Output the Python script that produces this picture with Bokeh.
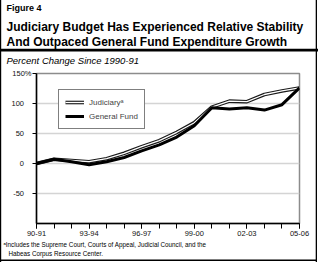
from bokeh.plotting import figure
from bokeh.layouts import column
from bokeh.models import (Range1d, FixedTicker, Legend, LegendItem, ColumnDataSource)
from bokeh.core.properties import value
from bokeh.embed import file_html
from bokeh.resources import INLINE

years = ["90-91", "91-92", "92-93", "93-94", "94-95", "95-96", "96-97", "97-98",
         "98-99", "99-00", "00-01", "01-02", "02-03", "03-04", "04-05", "05-06"]
judiciary = [0, 7, 5, 3, 8, 17, 28, 38, 52, 68, 94, 104, 103, 115, 121, 126]
general_fund = [0, 7, 3, -2, 3, 10, 21, 31, 44, 63, 93, 91, 93, 89, 98, 126]
y_ticks = [-50, 0, 50, 100, 150]
y_tick_labels = ["-50", "0", "50", "100", "150%"]

figure_label = "Figure 4"
title_lines = ["Judiciary Budget Has Experienced Relative Stability",
               "And Outpaced General Fund Expenditure Growth"]
subtitle = "Percent Change Since 1990-91"
footnote_lines = ["\u1d43Includes the Supreme Court, Courts of Appeal, Judicial Council, and the",
                  "Habeas Corpus Resource Center."]
legend_labels = ["Judiciary\u1d43", "General Fund"]

FONT = "Liberation Sans"
W = 318


def canvas_fig(h):
    f = figure(width=W, height=h, output_backend="svg", toolbar_location=None,
               x_range=Range1d(0, W), y_range=Range1d(h, 0),
               x_axis_type=None, y_axis_type=None, min_border=0,
               frame_align=False)
    f.grid.visible = False
    f.outline_line_color = None
    f.background_fill_alpha = 0
    f.border_fill_alpha = 0
    return f


def put_text(f, x, y, text, size, style="normal"):
    f.text(x=[x], y=[y], text=[text], text_font=value(FONT), text_font_size=size,
           text_font_style=style, text_color="black", text_baseline="alphabetic",
           text_align="left")


# ---- header ----
HH = 68
head = canvas_fig(HH)
put_text(head, 6, 7.5, figure_label, "9px", "bold")
put_text(head, 6, 26, title_lines[0], "12px", "bold")
put_text(head, 6, 41, title_lines[1], "12px", "bold")
head.quad(left=[0], right=[W], top=[48.3], bottom=[51], fill_color="black", line_color=None)
put_text(head, 6, 59.5, subtitle, "9.5px", "italic")

# ---- main chart ----
idx = list(range(len(years)))
src = ColumnDataSource(dict(x=idx, j=judiciary, gf=general_fund))

p = figure(width=W, height=170, output_backend="svg", toolbar_location=None,
           x_range=Range1d(0, len(years) - 1), y_range=Range1d(-100, 150),
           min_border_left=36, min_border_right=19, min_border_top=5,
           min_border_bottom=15, frame_align=False)
p.background_fill_color = "white"
p.border_fill_alpha = 0
p.outline_line_color = "#8c8c8c"
p.outline_line_width = 1.5

p.xaxis.ticker = FixedTicker(ticks=idx[::3], minor_ticks=idx)
p.xaxis.major_label_overrides = {i: years[i] for i in idx[::3]}
p.xaxis.major_tick_in = 0
p.xaxis.major_tick_out = 5
p.xaxis.minor_tick_in = 0
p.xaxis.minor_tick_out = 5
p.xaxis.minor_tick_line_color = "black"
p.xaxis.major_tick_line_color = "black"
p.xaxis.axis_line_color = "black"
p.xaxis.axis_line_width = 1.5
p.xaxis.major_label_standoff = 2
p.xaxis.major_label_text_font = FONT
p.xaxis.major_label_text_font_size = "7.5px"
p.xaxis.major_label_text_color = "#111111"

p.yaxis.ticker = FixedTicker(ticks=y_ticks, minor_ticks=[])
p.yaxis.major_label_overrides = {
    t: (lab if lab.endswith("%") else lab + "\u2003")
    for t, lab in zip(y_ticks, y_tick_labels)}
p.yaxis.major_tick_in = 0
p.yaxis.major_tick_out = 4
p.yaxis.major_tick_line_color = "black"
p.yaxis.axis_line_color = "black"
p.yaxis.axis_line_width = 1.5
p.yaxis.major_label_standoff = 1
p.yaxis.major_label_text_font = FONT
p.yaxis.major_label_text_font_size = "7.5px"
p.yaxis.major_label_text_color = "#111111"

p.xgrid.visible = False
p.ygrid.grid_line_color = "#d4d4d4"
p.ygrid.grid_line_width = 1.5

r_jo = p.line("x", "j", source=src, line_color="#1a1a1a", line_width=3.6)
r_ji = p.line("x", "j", source=src, line_color="white", line_width=1.3)
r_gf = p.line("x", "gf", source=src, line_color="black", line_width=3)

legend = Legend(items=[LegendItem(label=legend_labels[0], renderers=[r_jo, r_ji]),
                       LegendItem(label=legend_labels[1], renderers=[r_gf])],
                location=(22, 94))
legend.border_line_color = "black"
legend.border_line_width = 1
legend.background_fill_alpha = 1
legend.label_text_font = FONT
legend.label_text_font_size = "8px"
legend.glyph_width = 19
legend.glyph_height = 12
legend.label_height = 12
legend.label_standoff = 5
legend.padding = 6
legend.spacing = 2
legend.margin = 0
p.add_layout(legend)

# ---- footer ----
foot = canvas_fig(24)
put_text(foot, 3, 5.5, footnote_lines[0], "6.3px")
put_text(foot, 8, 14.5, footnote_lines[1], "6.3px")

page = column(head, p, foot, spacing=0,
              styles={"background-color": "white",
                      "box-shadow": ("inset 1.2px 0 0 0 #000, "
                                     "inset -1px 0 0 0 #fff, inset -2.3px 0 0 0 #000, "
                                     "inset 0 -1px 0 0 #fff, inset 0 -2.4px 0 0 #000")})

open("out.html", "w").write(file_html(page, INLINE))
